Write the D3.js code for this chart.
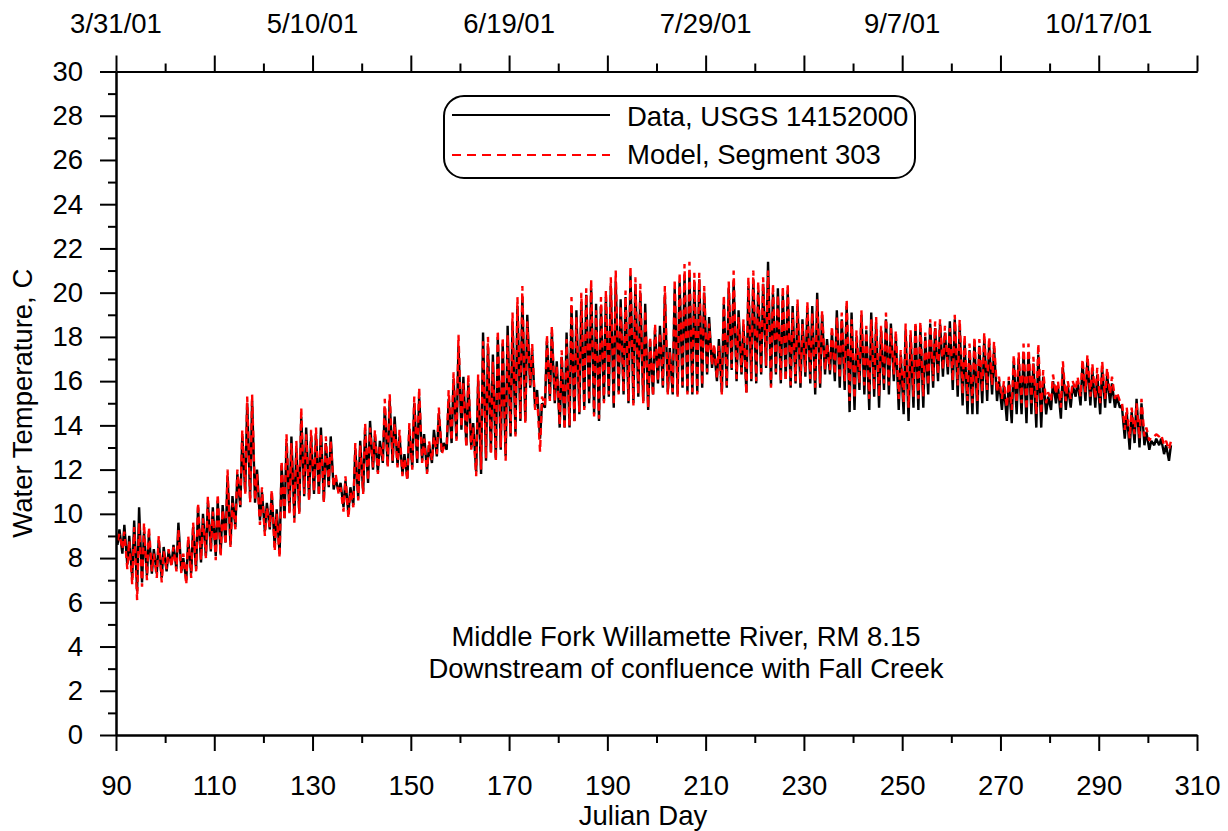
<!DOCTYPE html>
<html>
<head>
<meta charset="utf-8">
<script src="https://cdn.jsdelivr.net/npm/d3@7"></script>
<style>
  html, body { margin: 0; padding: 0; background: #fff; }
  svg { display: block; font-family: "Liberation Sans", Arial, sans-serif; }
</style>
</head>
<body>
<svg id="chart" width="1228" height="831"></svg>
<script>
// ---------- DATA ----------
const firstDay = 90;
// Daily maximum / minimum water temperature, deg C, days 90..304
const dataMax = [
  9.3, 9.5, 9.0, 9.7, 10.3, 9.2, 9.1, 8.4, 8.8, 8.5,
  8.3, 8.6, 9.6, 8.0, 8.8, 9.4, 10.3, 10.0, 10.5, 10.3,
  10.6, 10.4, 11.7, 10.8, 11.8, 13.5, 15.0, 15.1, 12.0, 11.0,
  10.5, 10.9, 10.2, 12.2, 13.2, 13.5, 13.0, 14.4, 13.9, 13.5,
  13.6, 13.9, 13.2, 13.5, 11.6, 11.4, 11.5, 11.2, 12.9, 13.3,
  13.8, 14.2, 13.5, 13.3, 14.8, 15.1, 14.4, 13.5, 12.7, 13.8,
  15.0, 15.3, 13.6, 13.1, 13.8, 14.5, 13.2, 15.2, 16.1, 17.6,
  16.2, 15.9, 14.1, 16.0, 18.2, 17.6, 17.2, 18.0, 17.7, 18.5,
  18.7, 19.4, 19.8, 19.0, 17.4, 15.6, 15.0, 17.8, 18.2, 16.9,
  17.1, 18.2, 19.4, 19.2, 19.6, 19.9, 20.2, 19.5, 19.4, 19.8,
  20.3, 20.5, 19.7, 19.8, 20.8, 20.4, 20.0, 19.5, 17.8, 18.3,
  18.5, 19.9, 17.5, 20.2, 20.5, 20.8, 20.9, 20.5, 20.6, 20.0,
  18.9, 17.5, 17.9, 19.5, 20.2, 20.5, 19.2, 18.5, 20.3, 20.6,
  20.1, 20.4, 21.4, 20.0, 20.2, 19.9, 20.1, 19.4, 19.4, 18.8,
  19.3, 19.4, 20.0, 19.0, 17.9, 18.2, 19.2, 18.8, 19.4, 19.1,
  18.0, 19.0, 18.3, 19.1, 18.6, 18.3, 18.8, 18.6, 18.0, 17.2,
  18.3, 18.1, 18.5, 18.4, 18.0, 18.6, 18.4, 18.6, 18.2, 18.7,
  18.8, 18.5, 17.8, 17.4, 17.8, 17.6, 17.9, 17.7, 17.5, 16.0,
  15.8, 16.0, 16.9, 17.0, 17.3, 17.3, 16.8, 17.2, 16.2, 15.3,
  16.0, 15.8, 16.6, 15.8, 15.8, 16.0, 16.8, 17.0, 16.5, 16.3,
  16.6, 16.3, 15.9, 15.3, 14.9, 14.6, 14.6, 15.2, 15.0, 13.7,
  13.3, 13.4, 13.4, 13.1, 13.1
];
const dataMin = [
  8.6, 8.2, 7.7, 7.1, 6.5, 6.9, 7.2, 7.3, 7.3, 7.1,
  7.4, 7.7, 7.5, 7.4, 7.0, 7.3, 7.5, 7.8, 8.1, 8.3,
  8.1, 8.2, 8.7, 8.6, 9.4, 10.3, 11.0, 10.7, 10.5, 9.7,
  9.2, 9.3, 8.5, 8.2, 9.8, 10.1, 9.8, 10.1, 10.8, 10.7,
  10.9, 10.9, 10.6, 11.2, 11.1, 11.0, 10.3, 10.0, 10.4, 10.7,
  11.0, 11.4, 12.0, 11.9, 12.3, 12.2, 12.3, 12.2, 11.8, 11.6,
  12.1, 12.3, 12.4, 11.9, 12.3, 12.6, 12.8, 12.9, 13.2, 13.4,
  13.8, 13.1, 13.0, 11.9, 11.8, 12.4, 12.8, 12.5, 12.9, 12.6,
  13.5, 13.6, 14.2, 14.2, 15.7, 14.8, 13.4, 14.8, 15.2, 15.0,
  13.9, 13.9, 13.9, 14.2, 14.5, 14.8, 15.0, 14.5, 14.2, 15.1,
  15.3, 14.8, 15.5, 15.4, 15.0, 15.0, 15.3, 15.1, 14.7, 15.4,
  15.9, 15.7, 15.5, 15.4, 15.4, 15.7, 15.5, 15.4, 15.5, 15.7,
  16.3, 16.6, 16.0, 15.5, 15.7, 16.5, 16.0, 16.3, 15.5, 16.0,
  15.9, 16.3, 16.6, 15.8, 16.3, 15.9, 16.1, 15.7, 15.9, 15.7,
  16.2, 15.9, 15.4, 15.7, 16.3, 16.3, 16.0, 15.7, 15.6, 14.6,
  14.7, 15.6, 15.4, 14.7, 15.3, 14.8, 15.6, 15.4, 16.0, 14.7,
  14.5, 14.2, 14.8, 14.7, 14.8, 15.4, 15.7, 16.0, 16.2, 16.3,
  15.6, 15.3, 14.9, 14.5, 14.5, 14.5, 15.0, 15.1, 15.4, 15.1,
  14.7, 14.2, 14.1, 14.5, 14.5, 14.1, 14.5, 13.9, 13.9, 14.5,
  14.7, 15.0, 14.3, 14.7, 14.8, 15.3, 14.9, 15.1, 14.9, 14.8,
  14.5, 14.8, 15.0, 14.8, 14.8, 13.4, 12.9, 13.2, 13.0, 13.1,
  12.9, 13.1, 13.1, 12.7, 12.4
];
const modelMax = [
  9.1, 9.2, 8.8, 9.4, 9.6, 9.6, 9.4, 8.2, 9.0, 8.3,
  8.4, 8.5, 9.3, 8.2, 9.0, 9.6, 10.5, 9.8, 10.8, 10.1,
  10.9, 10.2, 12.0, 10.5, 12.0, 13.8, 15.3, 15.4, 11.8, 11.2,
  10.3, 11.1, 10.0, 12.4, 13.6, 13.2, 13.3, 14.8, 13.6, 13.8,
  13.9, 13.6, 13.5, 13.3, 11.8, 11.2, 11.7, 11.0, 13.2, 13.1,
  14.1, 13.9, 13.8, 13.1, 15.2, 15.4, 14.1, 13.8, 12.5, 14.1,
  15.3, 15.7, 13.4, 13.3, 13.5, 14.8, 13.0, 15.6, 16.4, 18.1,
  15.9, 16.3, 13.9, 16.3, 17.8, 18.0, 16.9, 18.3, 18.0, 18.1,
  19.1, 19.8, 20.3, 18.7, 17.7, 15.4, 15.3, 18.1, 18.5, 16.7,
  17.4, 17.9, 19.8, 18.9, 20.0, 20.2, 20.6, 19.2, 19.8, 20.1,
  20.7, 21.0, 19.4, 20.1, 21.2, 20.7, 20.4, 19.2, 18.0, 18.6,
  18.2, 20.3, 17.3, 20.6, 20.9, 21.3, 21.4, 20.9, 20.9, 20.3,
  18.6, 17.7, 17.6, 19.9, 20.5, 21.0, 18.9, 18.8, 20.7, 21.0,
  20.5, 20.7, 21.0, 20.4, 19.9, 20.3, 20.4, 19.1, 19.7, 18.6,
  19.6, 19.1, 19.7, 19.2, 17.7, 18.5, 18.9, 19.1, 19.7, 18.8,
  18.3, 19.2, 18.5, 18.8, 18.9, 18.5, 19.1, 18.4, 18.3, 17.4,
  18.6, 18.3, 18.7, 18.7, 18.2, 18.8, 18.7, 18.8, 18.5, 18.4,
  19.0, 18.8, 18.1, 17.7, 18.0, 17.9, 18.2, 18.0, 17.8, 16.2,
  16.0, 16.2, 17.2, 17.3, 17.7, 17.7, 17.1, 17.7, 16.5, 15.5,
  16.3, 16.0, 16.9, 16.0, 16.0, 16.2, 17.0, 17.2, 16.8, 16.6,
  16.9, 16.6, 16.2, 15.5, 15.1, 14.8, 14.8, 15.0, 15.2, 13.9,
  13.5, 13.6, 13.6, 13.3, 13.3
];
const modelMin = [
  8.8, 8.4, 7.5, 6.8, 6.1, 6.7, 7.0, 7.4, 7.1, 6.9,
  7.5, 7.6, 7.4, 7.3, 6.8, 7.1, 7.4, 7.9, 8.0, 8.4,
  7.9, 8.1, 8.6, 8.5, 9.3, 10.4, 10.9, 10.5, 10.6, 9.5,
  9.0, 9.4, 8.3, 8.0, 9.7, 10.0, 9.6, 10.0, 10.9, 10.6,
  11.0, 10.8, 10.5, 11.3, 11.2, 10.9, 10.1, 9.8, 10.3, 10.6,
  10.9, 11.5, 12.1, 11.8, 12.4, 12.1, 12.4, 12.1, 11.7, 11.5,
  12.0, 12.4, 12.3, 11.8, 12.4, 12.7, 12.7, 13.0, 13.3, 13.3,
  13.9, 13.0, 12.9, 11.7, 12.0, 12.5, 12.7, 12.4, 13.0, 12.4,
  13.6, 13.5, 14.3, 14.1, 15.8, 14.7, 12.8, 14.9, 15.1, 15.1,
  14.0, 13.8, 14.0, 14.1, 14.6, 14.7, 15.1, 14.4, 14.3, 15.0,
  15.4, 14.9, 15.4, 15.5, 15.1, 14.9, 15.4, 15.0, 14.8, 15.3,
  16.0, 15.8, 15.4, 15.5, 15.3, 15.8, 15.4, 15.5, 15.4, 15.8,
  16.4, 16.7, 16.1, 15.4, 15.8, 16.6, 16.1, 16.4, 15.4, 16.1,
  16.0, 16.4, 16.7, 15.7, 16.4, 16.0, 16.0, 15.8, 16.0, 15.9,
  16.4, 16.1, 15.7, 15.9, 16.5, 16.5, 16.3, 16.1, 16.0, 15.1,
  15.2, 15.9, 15.8, 15.2, 15.6, 15.3, 15.9, 15.8, 16.3, 15.2,
  15.0, 14.8, 15.3, 15.2, 15.3, 15.8, 16.0, 16.3, 16.5, 16.6,
  16.0, 15.8, 15.4, 15.1, 15.0, 15.1, 15.5, 15.6, 15.8, 15.5,
  15.2, 14.8, 14.7, 15.0, 15.0, 14.7, 15.0, 14.5, 14.5, 15.0,
  15.1, 15.4, 14.8, 15.1, 15.2, 15.6, 15.3, 15.5, 15.3, 15.2,
  15.0, 15.2, 15.4, 15.2, 15.1, 13.8, 13.4, 13.6, 13.4, 13.5,
  13.3, 13.5, 13.5, 13.1, 12.9
];
const seriesNames = ["Data, USGS 14152000", "Model, Segment 303"];
const yTicks = [0, 2, 4, 6, 8, 10, 12, 14, 16, 18, 20, 22, 24, 26, 28, 30];
const xTicks = [90, 110, 130, 150, 170, 190, 210, 230, 250, 270, 290, 310];
const dateTickDays = [90, 130, 170, 210, 250, 290];
const dateTickLabels = ["3/31/01", "5/10/01", "6/19/01", "7/29/01", "9/7/01", "10/17/01"];
const noteLines = ["Middle Fork Willamette River, RM 8.15", "Downstream of confluence with Fall Creek"];
const xTitle = "Julian Day";
const yTitle = "Water Temperature, C";

// ---------- LAYOUT ----------
const plotL = 116, plotR = 1197, plotT = 71.5, plotB = 735;
const FS = 27.5;
const svg = d3.select("#chart");
const x = d3.scaleLinear().domain([90, 310]).range([plotL, plotR]);
const y = d3.scaleLinear().domain([0, 30]).range([plotB, plotT]);

// build diurnal series: min in the morning, max in the afternoon
function build(mins, maxs) {
  const pts = [];
  mins.forEach((mn, i) => {
    const d = firstDay + i;
    pts.push([d + 0.3, mn]);
    pts.push([d + 0.7, maxs[i]]);
  });
  return pts;
}
const dataPts = build(dataMin, dataMax);
const modelPts = build(modelMin, modelMax);
const line = d3.line().x(d => x(d[0])).y(d => y(d[1]));

svg.append("path").attr("d", line(dataPts))
  .attr("fill", "none").attr("stroke", "#000").attr("stroke-width", 2.4)
  .attr("stroke-linejoin", "bevel");
svg.append("path").attr("d", line(modelPts))
  .attr("fill", "none").attr("stroke", "#ff0000").attr("stroke-width", 2.4)
  .attr("stroke-dasharray", "7,5").attr("stroke-linejoin", "bevel");

// ---------- AXES ----------
function styleAxis(g) {
  g.selectAll("path.domain").attr("stroke", "#000").attr("stroke-width", 2);
  g.selectAll(".tick line").attr("stroke", "#000").attr("stroke-width", 2);
  g.selectAll(".tick text").attr("fill", "#000").style("font-size", FS + "px")
    .style("font-family", '"Liberation Sans", Arial, sans-serif');
}
const yMinor = d3.range(1, 30, 2);
const xMinor = d3.range(100, 310, 20);

// left
svg.append("g").attr("transform", `translate(${plotL},0)`)
  .call(d3.axisLeft(y).tickValues(yMinor).tickSize(8).tickSizeOuter(0).tickFormat(""))
  .call(styleAxis);
svg.append("g").attr("transform", `translate(${plotL},0)`)
  .call(d3.axisLeft(y).tickValues(yTicks).tickSize(16).tickSizeOuter(0).tickPadding(17).tickFormat(d3.format("d")))
  .call(styleAxis);
// bottom
svg.append("g").attr("transform", `translate(0,${plotB})`)
  .call(d3.axisBottom(x).tickValues(xMinor).tickSize(8).tickSizeOuter(0).tickFormat(""))
  .call(styleAxis);
svg.append("g").attr("transform", `translate(0,${plotB})`)
  .call(d3.axisBottom(x).tickValues(xTicks).tickSize(16).tickSizeOuter(0).tickPadding(24).tickFormat(d3.format("d")))
  .call(styleAxis);
// top
svg.append("g").attr("transform", `translate(0,${plotT})`)
  .call(d3.axisTop(x).tickValues(xMinor).tickSize(8).tickSizeOuter(0).tickFormat(""))
  .call(styleAxis);
svg.append("g").attr("transform", `translate(0,${plotT})`)
  .call(d3.axisTop(x).tickValues(xTicks).tickSize(16).tickSizeOuter(0).tickFormat(""))
  .call(styleAxis);
svg.append("g").selectAll("text").data(dateTickDays).join("text")
  .attr("x", d => x(d)).attr("y", 33).attr("text-anchor", "middle")
  .style("font-size", FS + "px").text((d, i) => dateTickLabels[i]);

// titles
svg.append("text").attr("x", 643).attr("y", 825).attr("text-anchor", "middle")
  .style("font-size", FS + "px").text(xTitle);
svg.append("text").attr("transform", `translate(32,${(plotT + plotB) / 2}) rotate(-90)`)
  .attr("text-anchor", "middle").style("font-size", FS + "px").text(yTitle);

// annotation
svg.append("g").selectAll("text").data(noteLines).join("text")
  .attr("x", 686).attr("y", (d, i) => 646 + i * 32).attr("text-anchor", "middle")
  .style("font-size", FS + "px").text(d => d);

// ---------- LEGEND ----------
const lg = svg.append("g");
lg.append("rect").attr("x", 444).attr("y", 96).attr("width", 471).attr("height", 82)
  .attr("rx", 20).attr("ry", 20).attr("fill", "#fff").attr("stroke", "#000").attr("stroke-width", 2);
const legendRows = [
  { name: seriesNames[0], color: "#000", dash: null, ly: 115, ty: 125.5 },
  { name: seriesNames[1], color: "#ff0000", dash: "9,6", ly: 155, ty: 164 }
];
legendRows.forEach(r => {
  lg.append("line").attr("x1", 452).attr("x2", 610).attr("y1", r.ly).attr("y2", r.ly)
    .attr("stroke", r.color).attr("stroke-width", 2).attr("stroke-dasharray", r.dash);
  lg.append("text").attr("x", 627).attr("y", r.ty).style("font-size", FS + "px").text(r.name);
});
</script>
</body>
</html>
